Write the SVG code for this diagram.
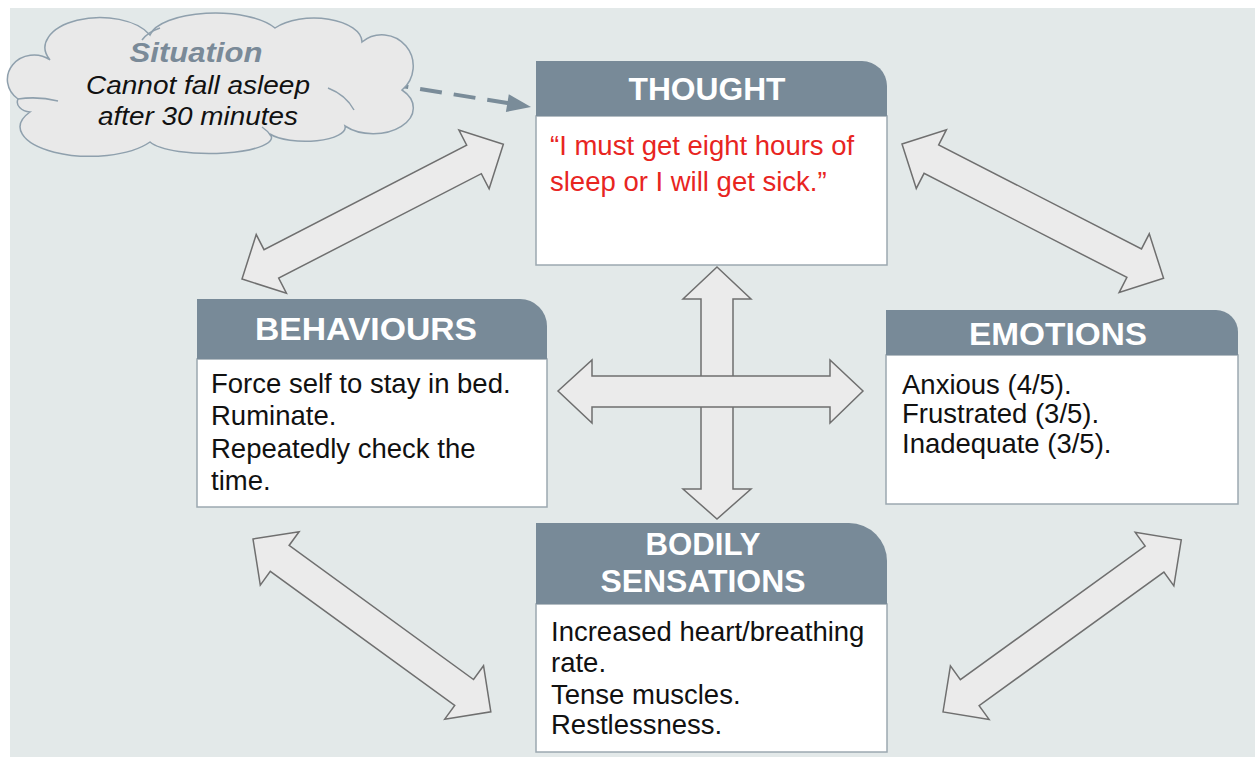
<svg xmlns="http://www.w3.org/2000/svg" width="1255" height="757" viewBox="0 0 1255 757">
<style>
.hdr{fill:#788A98;}
.body{fill:#FFFFFF;stroke:#9CA8B0;stroke-width:1.5;}
.ht{font-family:"Liberation Sans",Arial,sans-serif;font-weight:bold;font-size:31px;fill:#FFFFFF;text-anchor:middle;}
.bt{font-family:"Liberation Sans",Arial,sans-serif;font-size:27.5px;fill:#111111;}
.red{fill:#E8251F;}
.arr{fill:#EBEBEB;stroke:#6F6F6F;stroke-width:1.5;stroke-linejoin:miter;}
.cloud{fill:#E9E9E9;stroke:#8FA0AD;stroke-width:1.5;}
.ci{fill:none;stroke:#8FA0AD;stroke-width:1.5;}
</style>
<defs>
<polygon id="darr" points="0,0 33,-33 33,-16 261,-16 261,-33 294,0 261,33 261,16 33,16 33,33"/>
</defs>
<rect x="10" y="8" width="1245" height="749" fill="#E3E9E9"/>

<g id="connectors">
  <use href="#darr" class="arr" transform="translate(242,279) rotate(-27.26)"/>
  <use href="#darr" class="arr" transform="translate(902,144) rotate(27.17)"/>
  <use href="#darr" class="arr" transform="translate(253,539) rotate(36.01)"/>
  <use href="#darr" class="arr" transform="translate(943,712) rotate(-35.86)"/>
  <polygon class="arr" points="717,267 751,299 733,299 733,489 751,489 717,519 683,489 701,489 701,299 683,299"/>
  <polygon class="arr" points="558,391 592,360 592,376 830,376 830,360 863,391 830,423 830,407 592,407 592,423"/>
  <line x1="353" y1="78" x2="510" y2="103.5" stroke="#7A8C99" stroke-width="4" stroke-dasharray="22 12"/>
  <polygon points="531,107 508.8,94.2 505.9,112" fill="#7A8C99"/>
</g>

<g id="situation">
  <path class="cloud" d="M18,99 A24,22 0 0 1 50,60 A55,30 0 0 1 150,35 A66,26 0 0 1 275,28 A48,24 0 0 1 362,42 A28,28 0 0 1 402,90 A34,22 0 0 1 345,126 A40,14 0 0 1 270,134 A62,16 0 0 1 150,142 A62,26 0 0 1 30,112 A14,10 0 0 1 18,99 Z"/>
  <path class="ci" d="M18,99 Q38,96 58,101"/>
  <path class="ci" d="M328,88 Q346,95 354,110"/>
  <path class="ci" d="M262,127 Q268,131 271,136"/>
  <path class="ci" d="M142,40 Q148,32 160,28"/>
  <text x="196" y="62" font-family="Liberation Sans,Arial,sans-serif" font-weight="bold" font-style="italic" font-size="28" fill="#7A8A98" text-anchor="middle" textLength="133" lengthAdjust="spacingAndGlyphs">Situation</text>
  <text x="198" y="94" font-family="Liberation Sans,Arial,sans-serif" font-style="italic" font-size="25" fill="#111111" text-anchor="middle" textLength="224" lengthAdjust="spacingAndGlyphs">Cannot fall asleep</text>
  <text x="198" y="125" font-family="Liberation Sans,Arial,sans-serif" font-style="italic" font-size="25" fill="#111111" text-anchor="middle" textLength="200" lengthAdjust="spacingAndGlyphs">after 30 minutes</text>
</g>

<g id="thought">
  <rect class="body" x="536" y="116" width="351" height="149"/>
  <path class="hdr" d="M536,116 V61 H862 A25,25 0 0 1 887,86 V116 Z"/>
  <text class="ht" x="707" y="100" textLength="157" lengthAdjust="spacingAndGlyphs">THOUGHT</text>
  <text class="bt red" x="550" y="155" font-size="28">“I must get eight hours of</text>
  <text class="bt red" x="550" y="191" font-size="28">sleep or I will get sick.”</text>
</g>

<g id="behaviours">
  <rect class="body" x="197" y="359" width="350" height="148"/>
  <path class="hdr" d="M197,359 V299 H520 A27,27 0 0 1 547,326 V359 Z"/>
  <text class="ht" x="366" y="340" textLength="222" lengthAdjust="spacingAndGlyphs">BEHAVIOURS</text>
  <text class="bt" x="211" y="393">Force self to stay in bed.</text>
  <text class="bt" x="211" y="425">Ruminate.</text>
  <text class="bt" x="211" y="458">Repeatedly check the</text>
  <text class="bt" x="211" y="490">time.</text>
</g>

<g id="emotions">
  <rect class="body" x="886" y="355" width="352" height="149"/>
  <path class="hdr" d="M886,355 V310 H1216 A22,22 0 0 1 1238,332 V355 Z"/>
  <text class="ht" x="1058" y="345" textLength="178" lengthAdjust="spacingAndGlyphs">EMOTIONS</text>
  <text class="bt" x="902" y="394" font-size="26">Anxious (4/5).</text>
  <text class="bt" x="902" y="423" font-size="26">Frustrated (3/5).</text>
  <text class="bt" x="902" y="453" font-size="26">Inadequate (3/5).</text>
</g>

<g id="bodily-sensations">
  <rect class="body" x="536" y="604" width="351" height="148"/>
  <path class="hdr" d="M536,604 V523 H849 A38,38 0 0 1 887,561 V604 Z"/>
  <text class="ht" x="703" y="555" textLength="115" lengthAdjust="spacingAndGlyphs">BODILY</text>
  <text class="ht" x="703" y="592" textLength="205" lengthAdjust="spacingAndGlyphs">SENSATIONS</text>
  <text class="bt" x="551" y="641">Increased heart/breathing</text>
  <text class="bt" x="551" y="672">rate.</text>
  <text class="bt" x="551" y="704">Tense muscles.</text>
  <text class="bt" x="551" y="734">Restlessness.</text>
</g>
</svg>
